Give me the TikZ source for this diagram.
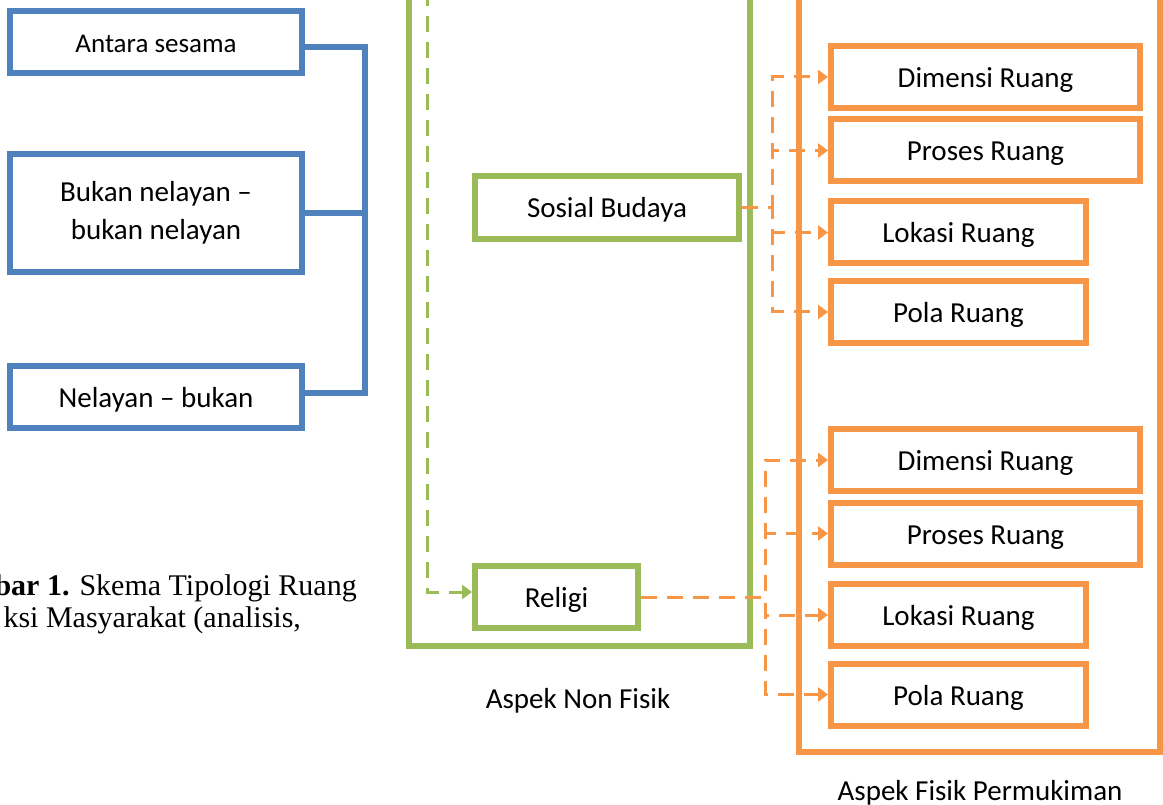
\documentclass[tikz,border=0pt]{standalone}
\usepackage{fontspec}
\setmainfont{Carlito}
\newfontfamily\capfont{Liberation Serif}
\usetikzlibrary{arrows.meta, positioning}
\definecolor{blueline}{HTML}{4F81BD}
\definecolor{greenline}{HTML}{9BBB59}
\definecolor{orangeline}{HTML}{F79646}

\begin{document}
\begin{tikzpicture}[
  x=1pt, y=-1pt,
  every node/.style={font=\fontsize{29}{38}\selectfont},
  box/.style={rectangle, draw, line width=6pt, inner sep=0pt, minimum height=62pt, align=center},
  oneline/.style={text height=27pt, text depth=6pt},
  bluebox/.style={box, draw=blueline, minimum width=292pt},
  greenbox/.style={box, oneline, draw=greenline},
  orangebox/.style={box, oneline, draw=orangeline, anchor=west},
  wide/.style={minimum width=309pt},
  narrow/.style={minimum width=255pt},
  link/.style={line width=6pt, blueline},
  dlink/.style={-{Triangle[length=10pt, width=14pt]}, line width=3pt, dash pattern=on 16pt off 10pt},
  caption/.style={anchor=base west, font=\capfont\fontsize{30}{36}\selectfont}
]
\useasboundingbox (0,0) rectangle (1163,805);
\clip (0,0) rectangle (1163,805);

% left column
\node[bluebox, oneline, font=\fontsize{27}{36}\selectfont] (antara) at (156,42) {Antara sesama};
\node[bluebox, minimum height=118pt] (bukan) at (156,213) {Bukan nelayan --\\bukan nelayan};
\node[bluebox, oneline] (nelayan) at (156,397) {Nelayan -- bukan};

\draw[link] ([yshift=-5pt]antara.east) -- ++(60,0) |- ([yshift=4pt]nelayan.east);
\draw[link] (bukan.east) -- ++(60,0);

\node[caption] (cap1) at (-9,595) {\textbf{bar 1.} Skema Tipologi Ruang};
\node[caption] (cap2) at (0,627) {ksi Masyarakat (analisis,};

% non fisik
\draw[line width=6pt, greenline] (409,-20) rectangle (750,646);
\node[anchor=base] (nonfisik) at (578,708) {Aspek Non Fisik};
\node[greenbox, minimum width=264pt, minimum height=63pt] (sosial) at (607,207.5) {Sosial Budaya};
\node[greenbox, minimum width=163pt] (religi) at (556.5,597) {Religi};

\coordinate (gtop) at (427,-10);
\draw[dlink, greenline] (gtop) |- ([yshift=5pt]religi.west);

% fisik
\draw[line width=5.5pt, orangeline] (799,-20) rectangle (1160,752);
\node[anchor=base] (fisik) at (980,800) {Aspek Fisik Permukiman};

\node[orangebox, wide] (dim1) at (828,77) {Dimensi Ruang};
\node[orangebox, wide] (pro1) at (828,150.5) {Proses Ruang};
\node[orangebox, narrow] (lok1) at (828,232.5) {Lokasi Ruang};
\node[orangebox, narrow] (pola1) at (828,312) {Pola Ruang};

\node[orangebox, wide] (dim2) at (828,460) {Dimensi Ruang};
\node[orangebox, wide] (pro2) at (828,533.5) {Proses Ruang};
\node[orangebox, narrow] (lok2) at (828,615) {Lokasi Ruang};
\node[orangebox, narrow] (pola2) at (828,694.5) {Pola Ruang};

\foreach \t in {dim1, pro1, lok1, pola1}
  \draw[dlink, orangeline] (sosial.east) -- ++(30,0) |- (\t.west);
\foreach \t in {dim2, pro2, lok2, pola2}
  \draw[dlink, orangeline] (religi.east) -- ++(124,0) |- (\t.west);
\end{tikzpicture}
\end{document}
